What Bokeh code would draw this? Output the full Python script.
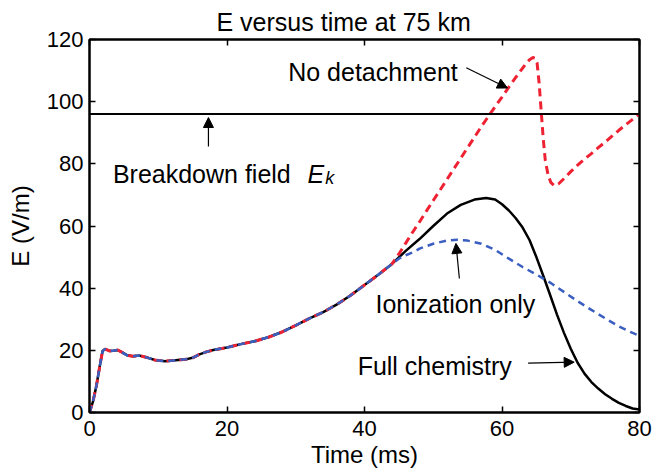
from bokeh.plotting import figure
from bokeh.models import LinearAxis, FixedTicker, Label, Arrow, NormalHead, Span
from bokeh.embed import file_html
from bokeh.resources import INLINE

# ---------------- data ----------------
# common early part, identical for all three runs (time in ms, E in V/m)
t_early = [0, 0.5, 1, 1.5, 1.9, 2.3, 2.9, 3.5, 4.1, 4.7, 5.5, 6.3, 7.3, 8.2, 9.5,
           11, 12.5, 14, 15, 16, 17, 18, 20, 22, 24, 26, 28, 30, 32, 34, 36,
           38, 40, 42, 44]
e_early = [0, 3.5, 8.5, 15, 19.8, 20.4, 19.8, 19.9, 20.1, 19.4, 18.4, 18.1, 18.3,
           17.8, 16.9, 16.5, 16.8, 17.1, 17.6, 18.7, 19.5, 20.1, 20.9, 22.0, 22.9,
           24.2, 25.9, 28.0, 30.3, 32.3, 34.8, 37.7, 41.0, 44.3, 47.8]

# Full chemistry (after 44 ms)
t_full = [46, 48, 50, 52, 54, 56, 57.7, 59, 60, 61, 62, 63, 64, 65, 66, 67, 68,
          69, 70, 71, 72, 73, 74, 75, 76, 77, 78, 79, 80]
e_full = [52, 55.8, 60, 64, 66.8, 68.5, 69, 68.5, 67, 65, 62.5, 59.5, 55.5, 50,
          44, 37.8, 31.5, 25.7, 20.5, 16.0, 12.5, 9.8, 7.7, 5.9, 4.4, 3.1, 2.1,
          1.3, 1.0]

# No detachment (after 44 ms)
t_nodet = [45, 46, 47, 48, 49, 50, 51, 52, 53, 54, 55, 56, 57, 58, 59, 60, 61, 62,
           63, 63.5, 64, 64.5, 64.8, 65.1, 65.4, 65.7, 66, 66.3, 66.7, 67.1, 67.6,
           68.2, 69, 70, 71, 72, 73, 74, 75, 76, 77, 78, 79, 80]
e_nodet = [51, 54.5, 58, 61.3, 64.8, 68.2, 71.6, 75, 78.4, 81.8, 85.2, 88.6, 92,
           95.2, 98.4, 101.5, 104.7, 107.8, 110.8, 112.3, 113.5, 114.2, 114, 112.5,
           106, 97, 88, 81, 76.5, 74, 73, 73.5, 75.2, 77.5, 79.6, 81.5, 83.3, 85.2,
           87, 88.9, 90.8, 92.6, 94.3, 96]

# Ionization only (after 44 ms)
t_ion = [45, 46, 47, 48, 50, 52, 53.5, 55, 57, 59, 61, 63, 65, 67, 69, 71, 73, 75,
         77, 79, 80]
e_ion = [49.5, 50.6, 51.5, 52.7, 54.3, 55.3, 55.6, 55.3, 54.3, 52.3, 49.5, 46.8,
         44.4, 41.8, 38.8, 35.8, 33, 30.3, 27.7, 25.6, 24.7]

breakdown_field = 96.0  # E_k

x_ticks = [0, 20, 40, 60, 80]
y_ticks = [0, 20, 40, 60, 80, 100, 120]

FONT = "Liberation Sans"

# ---------------- figure ----------------
p = figure(width=652, height=474, x_range=(0, 80), y_range=(0, 120),
           output_backend="svg", toolbar_location=None,
           min_border_left=89, min_border_right=13,
           min_border_top=39, min_border_bottom=62,
           title="E versus time at 75 km")
p.background_fill_color = "white"
p.border_fill_color = "white"
p.grid.visible = False
p.outline_line_color = "black"
p.outline_line_width = 2

p.title.text_font = FONT
p.title.text_font_size = "25px"
p.title.text_font_style = "normal"
p.title.text_color = "black"
p.title.align = "left"
p.title.offset = 127
p.title.standoff = 8

for ax in (p.xaxis[0], p.yaxis[0]):
    ax.axis_line_width = 2
    ax.axis_line_color = "black"
    ax.major_tick_in = 6
    ax.major_tick_out = 0
    ax.major_tick_line_width = 1.5
    ax.major_tick_line_color = "black"
    ax.minor_tick_line_color = None
    ax.major_label_text_font = FONT
    ax.major_label_text_font_size = "22px"
    ax.major_label_text_color = "black"
    ax.axis_label_text_font = FONT
    ax.axis_label_text_font_size = "24px"
    ax.axis_label_text_font_style = "normal"
    ax.axis_label_text_color = "black"

p.xaxis[0].ticker = FixedTicker(ticks=x_ticks)
p.yaxis[0].ticker = FixedTicker(ticks=y_ticks)
p.xaxis[0].axis_label = "Time (ms)"
p.yaxis[0].axis_label = "E (V/m)"
p.xaxis[0].major_label_standoff = 8
p.xaxis[0].axis_label_standoff = 2
p.yaxis[0].major_label_standoff = 6
p.yaxis[0].axis_label_standoff = 10

top = LinearAxis(ticker=FixedTicker(ticks=x_ticks),
                 major_label_overrides={t: "" for t in x_ticks},
                 major_label_standoff=0, major_tick_in=6, major_tick_out=0,
                 major_tick_line_width=1.5, minor_tick_line_color=None,
                 axis_line_width=2, major_label_text_font_size="1px")
right = LinearAxis(ticker=FixedTicker(ticks=y_ticks),
                   major_label_overrides={t: "" for t in y_ticks},
                   major_label_standoff=0, major_tick_in=6, major_tick_out=0,
                   major_tick_line_width=1.5, minor_tick_line_color=None,
                   axis_line_width=2, major_label_text_font_size="1px")
p.add_layout(top, "above")
p.add_layout(right, "right")

# breakdown field line
p.add_layout(Span(location=breakdown_field, dimension="width",
                  line_color="black", line_width=2))

# curves
p.line(t_early + t_full, e_early + e_full, line_color="black", line_width=2.5)
p.line(t_early + t_nodet, e_early + e_nodet, line_color="#ee2233", line_width=3,
       line_dash="8 5")
p.line(t_early + t_ion, e_early + e_ion, line_color="#3b5fc0", line_width=2.5,
       line_dash="7 5")

# annotations
def lab(x, y, text, size="25px", style="normal"):
    p.add_layout(Label(x=x, y=y, text=text, text_font=FONT, text_font_size=size,
                       text_font_style=style, text_baseline="alphabetic",
                       text_align="left", text_color="black"))

lab(28.9, 109.6, "No detachment")
lab(3.4, 76.8, "Breakdown field")
lab(31.7, 76.8, "E", style="italic")
lab(34.3, 75.6, "k", size="18px", style="italic")
lab(41.6, 34.8, "Ionization only")
lab(39.0, 14.9, "Full chemistry")

def arrow(x0, y0, x1, y1):
    p.add_layout(Arrow(end=NormalHead(size=10, fill_color="black", line_color="black",
                                      line_width=1),
                       x_start=x0, y_start=y0, x_end=x1, y_end=y1,
                       line_color="black", line_width=1.2))

arrow(54.8, 110.9, 60.8, 104.4)
arrow(17.3, 85.6, 17.3, 94.9)
arrow(53.8, 43.1, 53.3, 54.4)
arrow(63.8, 15.9, 70.5, 16.2)

open("out.html", "w").write(file_html(p, INLINE))
